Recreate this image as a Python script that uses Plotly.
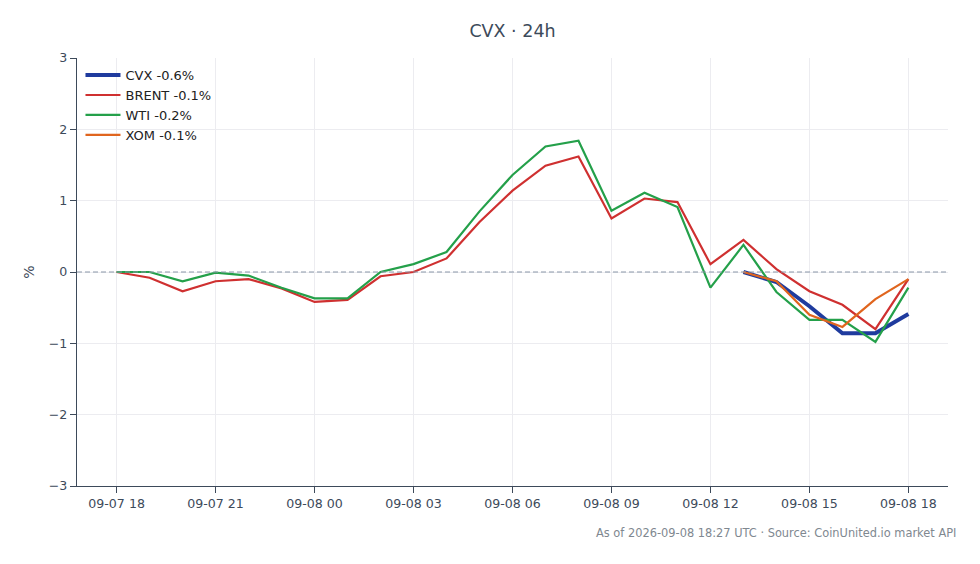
import pandas as pd
import plotly.graph_objects as go

# hourly timestamps, 09-07 18:00 -> 09-08 18:00
hours = pd.date_range("2026-09-07 18:00", "2026-09-08 18:00", freq="h")

# percent change vs. first point
brent = [0.0, -0.08, -0.27, -0.13, -0.10, -0.23, -0.42, -0.39, -0.06, 0.0,
         0.19, 0.70, 1.14, 1.49, 1.62, 0.75, 1.03, 0.98, 0.11, 0.45,
         0.04, -0.27, -0.46, -0.80, -0.10]
wti = [0.0, 0.0, -0.13, -0.01, -0.05, -0.22, -0.37, -0.37, 0.0, 0.11,
       0.28, 0.85, 1.36, 1.76, 1.84, 0.86, 1.11, 0.91, -0.22, 0.38,
       -0.28, -0.67, -0.67, -0.98, -0.22]
# equities only from 09-08 13:00
cvx = [0.0, -0.14, -0.48, -0.86, -0.86, -0.59]
xom = [0.0, -0.13, -0.60, -0.77, -0.38, -0.10]
eq_hours = hours[-6:]

series = [
    ("CVX -0.6%", eq_hours, cvx, "#1f3b9e", 4),
    ("BRENT -0.1%", hours, brent, "#cf3030", 2.2),
    ("WTI -0.2%", hours, wti, "#24a04a", 2.2),
    ("XOM -0.1%", eq_hours, xom, "#e0651e", 2.2),
]

fig = go.Figure()
for name, x, y, color, width in series:
    fig.add_trace(go.Scatter(x=x, y=y, mode="lines", name=name,
                             line=dict(color=color, width=width)))

fig.add_hline(y=0, line=dict(color="#8a97a8", width=1, dash="5px,3px"))

pad = pd.Timedelta(minutes=72)
axis_font = dict(family="DejaVu Sans", size=12.6, color="#3d4a5a")

fig.update_layout(
    width=980, height=564,
    margin=dict(l=69, r=40, t=50, b=86),
    paper_bgcolor="white", plot_bgcolor="white",
    font=dict(family="DejaVu Sans", size=12, color="#3d4a5a"),
    title=dict(text="CVX · 24h", x=0.5, xref="paper", xanchor="center",
               y=0.959, yanchor="middle",
               font=dict(size=17.5, color="#3d4a5a")),
    legend=dict(x=0.004, y=0.995, xanchor="left", yanchor="top",
                itemwidth=35,
                bgcolor="rgba(0,0,0,0)", font=dict(size=13, color="#222")),
    xaxis=dict(range=[hours[0] - pad, hours[-1] + pad],
               tickvals=hours[::3], tickformat="%m-%d %H",
               showline=True, linecolor="#3d4a5a", linewidth=1.2,
               ticks="outside", ticklen=6, tickcolor="#3d4a5a",
               showgrid=True, gridcolor="#ececf0", zeroline=False,
               tickfont=axis_font),
    yaxis=dict(range=[-3, 3], dtick=1, title=dict(text="%", standoff=10),
               showline=True, linecolor="#3d4a5a", linewidth=1.2,
               ticks="outside", ticklen=6, tickcolor="#3d4a5a",
               showgrid=True, gridcolor="#ececf0", zeroline=False,
               tickfont=axis_font),
    annotations=[dict(text="As of 2026-09-08 18:27 UTC · Source: CoinUnited.io market API",
                      xref="paper", yref="paper", x=1.011, y=-0.11,
                      xanchor="right", yanchor="middle", showarrow=False,
                      font=dict(size=11.4, color="#808890"))],
)

fig.write_html("out.html")
